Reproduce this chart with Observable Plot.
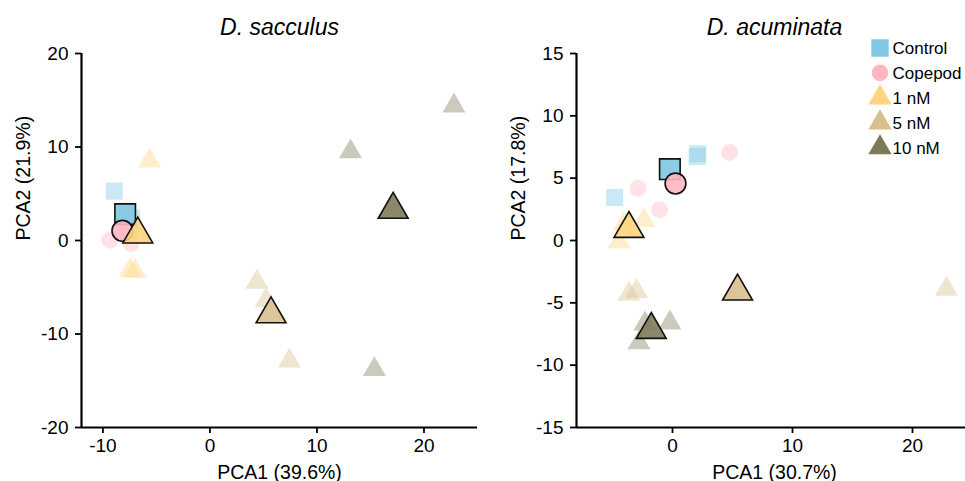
<!DOCTYPE html>
<html>
<head>
<meta charset="utf-8">
<script src="https://cdn.jsdelivr.net/npm/d3@7"></script>
<script src="https://cdn.jsdelivr.net/npm/@observablehq/plot@0.6"></script>
<style>
  html, body { margin: 0; padding: 0; background: #fff; }
  #wrap { position: relative; width: 965px; height: 481px; overflow: hidden; font-family: "Liberation Sans", Arial, sans-serif; }
  .panel { position: absolute; top: 0; }
  svg g[aria-label*="axis"] line, svg g[aria-label*="axis"] path { stroke-width: 1.8px; }
  #legend { position: absolute; left: 0; top: 0; }
</style>
</head>
<body>
<div id="wrap"></div>
<script>
// ---- data ----
const treatments = ["Control", "Copepod", "1 nM", "5 nM", "10 nM"];
const colors = ["#7EC8E3", "#FFB6C1", "#FFD47F", "#D8C08E", "#7E7A58"];
const shapes = ["square", "circle", "triangle", "triangle", "triangle"];

// D. sacculus replicates
const sacRepGroup = ["Control","Control","Control","Copepod","Copepod","Copepod","1 nM","1 nM","1 nM","5 nM","5 nM","5 nM","10 nM","10 nM","10 nM"];
const sacRepPC1 = [-8.94, -7.32, -7.50, -9.35, -7.37, -7.92, -5.64, -7.46, -6.98, 4.39, 5.24, 7.43, 22.80, 13.14, 15.37];
const sacRepPC2 = [5.28, 2.43, 0.75, 0.04, -0.32, 3.17, 8.52, -3.20, -3.30, -4.45, -6.41, -12.87, 14.41, 9.50, -13.79];
// D. sacculus centroids
const sacMeanPC1 = [-7.92, -8.18, -6.74, 5.71, 17.12];
const sacMeanPC2 = [2.82, 1.04, 0.66, -7.88, 3.30];

// D. acuminata replicates
const acuRepGroup = ["Control","Control","Control","Copepod","Copepod","Copepod","1 nM","1 nM","1 nM","5 nM","5 nM","5 nM","10 nM","10 nM","10 nM"];
const acuRepPC1 = [-4.82, 2.05, 2.11, -2.88, -1.08, 4.76, -2.38, -4.46, -4.05, 22.83, -3.63, -3.00, -0.22, -2.79, -2.30];
const acuRepPC2 = [3.45, 6.74, 6.97, 4.20, 2.46, 7.06, 1.61, -0.11, 1.32, -3.90, -4.29, -4.08, -6.60, -8.20, -6.68];
// D. acuminata centroids
const acuMeanPC1 = [-0.22, 0.25, -3.63, 5.42, -1.77];
const acuMeanPC2 = [5.72, 4.57, 0.94, -4.08, -7.16];

// axis ticks and labels
const sacXTicks = [-10, 0, 10, 20];
const sacYTicks = [-20, -10, 0, 10, 20];
const acuXTicks = [0, 10, 20];
const acuYTicks = [-15, -10, -5, 0, 5, 10, 15];
const panels = [
  {title: "D. sacculus", xLabel: "PCA1 (39.6%)", yLabel: "PCA2 (21.9%)", xDomain: [-12, 25], yDomain: [-20, 20],
   xTicks: sacXTicks, yTicks: sacYTicks, repGroup: sacRepGroup, repX: sacRepPC1, repY: sacRepPC2, meanX: sacMeanPC1, meanY: sacMeanPC2, left: 0},
  {title: "D. acuminata", xLabel: "PCA1 (30.7%)", yLabel: "PCA2 (17.8%)", xDomain: [-8, 25], yDomain: [-15, 15],
   xTicks: acuXTicks, yTicks: acuYTicks, repGroup: acuRepGroup, repX: acuRepPC1, repY: acuRepPC2, meanX: acuMeanPC1, meanY: acuMeanPC2, left: 495}
];

// ---- drawing ----
const shapeOf = g => shapes[treatments.indexOf(g)];
const rRep = {square: 9.6, circle: 8.5, triangle: 8.55};
const rMean = {square: 11.6, circle: 10.4, triangle: 11.1};
const fmt = d => String(d);
const wrap = document.getElementById("wrap");

for (const p of panels) {
  const reps = p.repGroup.map((g, i) => ({group: g, x: p.repX[i], y: p.repY[i]}));
  const means = treatments.map((g, i) => ({group: g, x: p.meanX[i], y: p.meanY[i]}));
  const chart = Plot.plot({
    width: 500,
    height: 481,
    marginLeft: 81,
    marginRight: 23,
    marginTop: 53,
    marginBottom: 54,
    style: {fontFamily: "Liberation Sans, Arial, sans-serif", fontSize: "19px", color: "#000", background: "transparent", overflow: "visible"},
    x: {domain: p.xDomain, ticks: p.xTicks, tickFormat: fmt, tickSize: 6, tickPadding: 5, label: null},
    y: {domain: p.yDomain, ticks: p.yTicks, tickFormat: fmt, tickSize: 6, tickPadding: 7, label: null},
    color: {domain: treatments, range: colors},
    symbol: {domain: treatments, range: shapes},
    r: {type: "identity"},
    marks: [
      Plot.dot(reps, {x: "x", y: "y", symbol: "group", fill: "group", fillOpacity: 0.4, stroke: "none",
        r: d => rRep[shapeOf(d.group)], sort: null}),
      Plot.dot(means, {x: "x", y: "y", symbol: "group", fill: "group", fillOpacity: 0.9, stroke: "#111", strokeWidth: 1.6,
        r: d => rMean[shapeOf(d.group)], sort: null}),
      Plot.ruleX([p.xDomain[0]], {stroke: "#000", strokeWidth: 2.2}),
      Plot.ruleY([p.yDomain[0]], {stroke: "#000", strokeWidth: 2.2}),
      Plot.text([p.title], {text: d => d, frameAnchor: "top", dy: -19, lineAnchor: "bottom", fontSize: 23, fontStyle: "italic", fill: "#000"}),
      Plot.text([p.xLabel], {text: d => d, frameAnchor: "bottom", dy: 51, lineAnchor: "bottom", fontSize: 19.5, fill: "#000"}),
      Plot.text([p.yLabel], {text: d => d, frameAnchor: "left", dx: -58, rotate: -90, lineAnchor: "middle", fontSize: 19.5, fill: "#000"})
    ]
  });
  chart.classList.add("panel");
  chart.style.left = p.left + "px";
  wrap.appendChild(chart);
}

// ---- legend ----
const ns = "http://www.w3.org/2000/svg";
const leg = document.createElementNS(ns, "svg");
leg.setAttribute("id", "legend");
leg.setAttribute("width", 965);
leg.setAttribute("height", 481);
const legR = {square: 9.8, circle: 8.3, triangle: 8.65};
const symMap = {square: d3.symbolSquare, circle: d3.symbolCircle, triangle: d3.symbolTriangle};
treatments.forEach((t, i) => {
  const cy = 48 + i * 24.9;
  const s = shapes[i];
  const path = document.createElementNS(ns, "path");
  path.setAttribute("d", d3.symbol(symMap[s], legR[s] * legR[s] * Math.PI)());
  path.setAttribute("transform", `translate(880,${cy})`);
  path.setAttribute("fill", colors[i]);
  leg.appendChild(path);
  const txt = document.createElementNS(ns, "text");
  txt.setAttribute("x", 892.5);
  txt.setAttribute("y", cy);
  txt.setAttribute("dy", "0.36em");
  txt.setAttribute("font-size", "17px");
  txt.setAttribute("font-family", "Liberation Sans, Arial, sans-serif");
  txt.textContent = t;
  leg.appendChild(txt);
});
wrap.appendChild(leg);
</script>
</body>
</html>
